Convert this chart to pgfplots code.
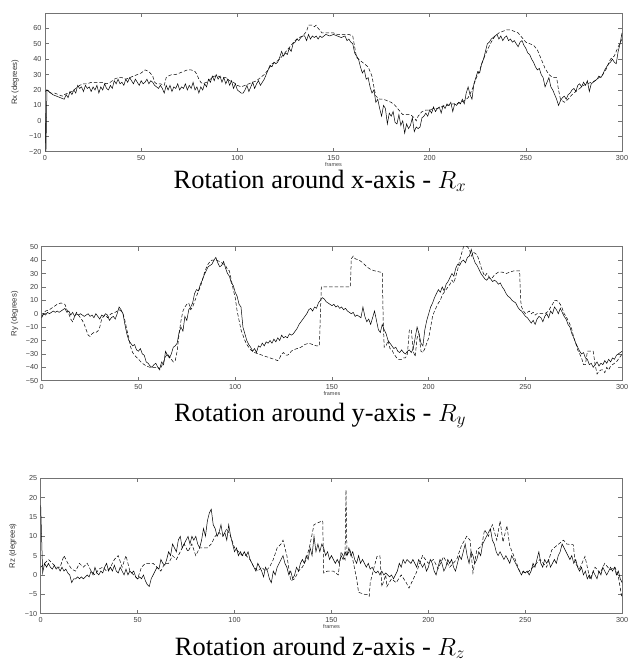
\documentclass[border=0pt]{standalone}
\usepackage{fontspec}
\setmainfont{Liberation Serif}
\setsansfont{Liberation Sans}
\usepackage{pgfplots}
\pgfplotsset{compat=1.18}

\newcommand{\ticksf}{\sffamily\fontsize{7.3}{8}\selectfont}

\pgfplotsset{
  mstyle/.style={
    scale only axis, anchor=north west,
    xmin=0, xmax=300, xtick={0,50,...,300},
    tick align=inside, major tick length=4bp,
    axis line style={draw=black!55, line width=0.5bp},
    every tick/.style={draw=black!55, line width=0.5bp},
    tick label style={font=\ticksf, text=black!75},
    /pgf/number format/assume math mode=true,
    xlabel=frames,
    xlabel style={at={(axis description cs:0.5,0)}, anchor=north, yshift=-7.5bp,
      font=\sffamily\fontsize{5.5}{6}\selectfont, text=black!75},
    ylabel style={anchor=center,
      font=\sffamily\fontsize{7.8}{8}\selectfont, text=black!80},
    no markers,
  },
  est/.style={black, line width=0.5bp},
  truth/.style={black, line width=0.5bp, dash pattern=on 3.5bp off 2bp},
}

\begin{document}
\begin{tikzpicture}
\useasboundingbox (0,0) rectangle (629bp,-662bp);

%%%%% Rx
\begin{axis}[mstyle,
  at={(45bp,-13.3bp)}, width=577bp, height=138.4bp,
  ymin=-20, ymax=69.7, ytick={-20,-10,...,60},
  yticklabels={−20,−10,0,10,20,30,40,50,60},
  ylabel={Rx (degrees)}, ylabel style={at={(axis description cs:-0.052,0.5)}}]
\addplot[est] coordinates {
(0,5)(0.5,-20)(1,20)(2,19)(4,17)(6,16)(8,15)(10,14)(11,17)(12,15)(13,19)(14,17)(15,20)(16,18)(17,23)(18,21)(19,22)(20,19)
(21,23)(22,21)(23,22)(24,19)(25,22)(26,20)(27,23)(28,18)(29,22)(30,20)(31,24)(32,21)(33,20)(34,23)(35,21)(36,26)(37,24)(38,27)(39,24)(40,25)
(41,23)(42,27)(43,25)(44,28)(45,26)(46,24)(47,27)(48,25)(49,23)(50,26)(51,24)(52,25)(53,27)(54,24)(55,26)(56,25)(57,23)(58,22)(59,21)(60,23)
(61,21)(62,18)(63,23)(64,20)(65,23)(66,19)(67,22)(68,21)(69,24)(70,20)(71,22)(72,21)(73,24)(74,20)(75,23)(76,21)(77,25)(78,20)(79,22)(80,18)
(81,22)(82,20)(83,24)(84,22)(85,27)(86,25)(87,29)(88,26)(89,30)(90,27)(91,29)(92,25)(93,28)(94,24)(95,27)(96,23)(97,26)(98,21)(99,24)(100,20)
(101,19)(102,18)(103,18)(104,20)(105,23)(106,19)(107,22)(108,25)(109,21)(110,24)(111,26)(112,23)(113,25)(114,27)(115,30)(116,33)(117,36)(118,35)(119,38)(120,37)
(121,38)(122,41)(123,45)(124,42)(125,44)(126,43)(127,47)(128,45)(129,50)(130,51)(131,53)(132,52)(133,54)(134,55)(135,55)(136,52)(137,56)(138,53)(139,55)(140,54)
(141,55)(142,53)(143,55)(144,54)(146,56)(148,55)(150,56)(152,55)(154,54)(156,55)(157,52)(158,53)(159,51)(160,50)
(161,44)(162,42)(163,40)(164,35)(165,31)(166,33)(167,27)(168,28)(169,22)(170,18)(171,20)(172,12)(173,14)(174,8)(175,3)(176,10)(177,8)(178,-2)(179,5)(180,3)
(181,6)(182,-1)(183,-2)(184,4)(185,-3)(186,0)(187,-8)(188,-2)(189,-5)(190,-3)(191,2)(192,-7)(193,-4)(194,-5)(195,-4)(196,2)(197,3)(198,5)(199,3)(200,7)
(201,5)(202,9)(203,6)(204,8)(205,9)(206,5)(207,10)(208,8)(209,11)(210,10)(211,12)(212,6)(213,11)(214,10)(215,12)(216,11)(217,14)(218,11)(219,18)(220,22)
(221,17)(222,14)(223,24)(224,28)(225,32)(226,31)(227,37)(228,40)(229,45)(230,50)(231,51)(232,53)(233,54)(234,55)(235,56)(236,53)(237,55)(238,52)(239,54)(240,55)
(241,52)(242,53)(243,51)(244,52)(245,50)(246,48)(247,51)(248,52)(249,49)(250,47)(251,44)(252,43)(253,40)(254,38)(255,35)(256,33)(257,34)(258,30)(259,28)(260,22)
(261,25)(262,28)(263,22)(264,20)(265,17)(266,14)(267,10)(268,13)(269,15)(270,16)(271,14)(272,17)(273,18)(274,20)(275,21)(276,19)(277,23)(278,24)(279,22)(280,25)
(281,23)(282,26)(283,19)(284,24)(285,25)(286,26)(287,27)(288,29)(289,28)(290,30)(291,33)(292,35)(293,37)(294,38)(295,40)(296,38)(297,37)(298,45)(299,50)(300,57)};
\addplot[truth] coordinates {
(0,19)(1,20)(3,18)(5,18)(7,17)(9,16)(10,17)(12,18)(14,19)(16,21)(18,23)(20,24)(22,24)(24,25)(26,25)(28,25)(30,25)(32,24)(34,25)(36,27)(38,28)(40,28)
(42,27)(44,28)(46,29)(48,30)(50,31)(52,33)(54,32)(56,29)(57,25)(58,24)(60,24)(62,23)(63,28)(64,29)(66,30)(68,30)(70,31)(72,32)(74,33)(76,33)(78,32)
(79,30)(80,27)(81,25)(82,24)(84,25)(86,27)(88,29)(90,29)(92,28)(94,28)(96,26)(98,25)(100,23)(102,22)(104,23)(106,24)(108,25)(110,26)(112,28)(114,30)
(116,33)(118,37)(120,38)(122,40)(124,43)(126,46)(128,49)(130,52)(132,54)(134,55)(136,58)(137,62)(139,62)(140,61)(141,62)(142,60)(144,57)(146,57)
(148,57)(150,57)(152,56)(154,56)(156,56)(158,56)(160,55)(161,48)(162,41)(164,39)(166,37)(168,35)(170,29)(171,22)(172,16)(174,14)(176,14)(178,13)
(180,12)(182,10)(184,7)(186,4)(188,4)(190,4)(192,2)(193,0)(194,3)(196,6)(198,7)(200,7)(202,8)(204,8)(206,9)(208,10)(210,10)(212,11)(214,11)(216,12)
(218,13)(220,15)(222,20)(224,27)(226,33)(228,40)(230,46)(232,51)(234,55)(236,57)(238,58)(240,59)(242,59)(244,58)(246,57)(248,54)(250,51)(252,50)
(254,49)(256,46)(258,40)(260,34)(262,30)(264,28)(266,28)(267,20)(268,14)(270,12)(272,14)(274,17)(276,19)(278,21)(280,23)(282,24)(284,25)(286,26)
(288,28)(290,30)(292,34)(294,40)(296,42)(298,48)(300,53)};
\end{axis}

%%%%% Ry
\begin{axis}[mstyle,
  at={(41.7bp,-246.7bp)}, width=580.5bp, height=134bp,
  ymin=-50, ymax=50, ytick={-50,-40,...,50},
  yticklabels={−50,−40,−30,−20,−10,0,10,20,30,40,50},
  ylabel={Ry (degrees)}, ylabel style={at={(axis description cs:-0.0465,0.5)}}]
\addplot[est] coordinates {
(0,-3)(1,0)(2,-1)(3,1)(4,0)(5,1)(6,2)(7,1)(8,2)(9,1)(10,2)(11,3)(12,4)(13,1)(14,2)(15,-1)(16,1)(17,-2)(18,0)(19,-1)(20,0)
(21,-1)(22,-2)(23,-1)(24,0)(25,-2)(26,-1)(27,-3)(28,0)(29,-2)(30,-4)(31,-1)(32,-2)(33,0)(34,-1)(35,-5)(36,-3)(37,-2)(38,-4)(39,0)(40,5)
(41,3)(42,0)(43,-8)(44,-15)(45,-20)(46,-22)(47,-24)(48,-23)(49,-27)(50,-28)(51,-26)(52,-30)(53,-31)(54,-36)(55,-37)(56,-39)(57,-40)(58,-38)(59,-37)(60,-40)
(61,-41)(62,-36)(63,-38)(64,-28)(65,-31)(66,-33)(67,-30)(68,-25)(69,-24)(70,-22)(71,-14)(72,-10)(73,-13)(74,-2)(75,-5)(76,3)(77,5)(78,8)(79,15)(80,18)
(81,17)(82,22)(83,25)(84,29)(85,32)(86,35)(87,36)(88,37)(89,40)(90,42)(91,38)(92,35)(93,36)(94,39)(95,34)(96,30)(97,28)(98,23)(99,21)(100,16)
(101,13)(102,7)(103,5)(104,-10)(105,-15)(106,-20)(107,-23)(108,-25)(109,-28)(110,-26)(111,-29)(112,-24)(113,-25)(114,-22)(115,-24)(116,-21)(117,-22)(118,-20)(119,-22)(120,-19)
(121,-21)(122,-18)(123,-20)(124,-16)(125,-18)(126,-17)(127,-18)(128,-15)(129,-16)(130,-15)(131,-13)(132,-11)(133,-8)(134,-6)(135,-4)(136,-2)(137,0)(138,3)(139,4)(140,2)
(141,5)(142,4)(143,8)(144,10)(145,12)(146,11)(147,9)(148,8)(149,7)(150,6)(151,7)(152,5)(153,6)(154,4)(155,5)(156,3)(157,4)(158,2)(159,1)(160,0)
(161,1)(162,-2)(163,-1)(164,-2)(165,-3)(166,5)(167,-2)(168,-6)(169,-4)(170,-8)(171,-3)(172,2)(173,-5)(174,-12)(175,-14)(176,-8)(177,-12)(178,-15)(179,-20)(180,-22)
(181,-24)(182,-26)(183,-25)(184,-28)(185,-29)(186,-27)(187,-29)(188,-30)(189,-28)(190,-27)(191,-29)(192,-26)(193,-18)(194,-10)(195,-15)(196,-22)(197,-24)(198,-12)(199,-5)(200,0)
(201,5)(202,8)(203,12)(204,15)(205,18)(206,16)(207,20)(208,17)(209,22)(210,24)(211,27)(212,30)(213,28)(214,34)(215,37)(216,36)(217,39)(218,40)(219,38)(220,42)
(221,43)(222,48)(223,42)(224,38)(225,36)(226,33)(227,30)(228,28)(229,26)(230,25)(231,27)(232,26)(233,24)(234,25)(235,24)(236,22)(237,23)(238,20)(239,18)(240,15)
(241,13)(242,12)(243,10)(244,9)(245,8)(246,5)(247,3)(248,2)(249,0)(250,-2)(251,-3)(252,-5)(253,-7)(254,-5)(255,-8)(256,-4)(257,-2)(258,-3)(259,-6)(260,-2)
(261,0)(262,-3)(263,2)(264,0)(265,5)(266,3)(267,0)(268,4)(269,1)(270,-2)(271,-4)(272,-8)(273,-10)(274,-15)(275,-18)(276,-22)(277,-25)(278,-28)(279,-30)(280,-29)
(281,-33)(282,-34)(283,-38)(284,-37)(285,-40)(286,-38)(287,-36)(288,-39)(289,-37)(290,-38)(291,-35)(292,-37)(293,-34)(294,-36)(295,-33)(296,-34)(297,-31)(298,-30)(299,-29)(300,-28)};
\addplot[truth] coordinates {
(0,-2)(2,2)(4,3)(6,5)(8,7)(10,8)(12,7)(13,3)(14,0)(15,-4)(16,-6)(17,-2)(18,1)(19,-1)(20,-3)(21,-5)(22,-8)(23,-12)(24,-16)(25,-17)(26,-15)(27,-14)
(28,-14)(29,-13)(30,-10)(31,-4)(32,-2)(33,-1)(34,-3)(35,-1)(36,0)(38,1)(40,3)(41,2)(42,0)(43,-5)(44,-12)(45,-18)(46,-25)(47,-29)(48,-31)(50,-34)
(52,-37)(54,-39)(56,-40)(58,-40)(60,-40)(61,-42)(62,-39)(63,-36)(64,-32)(65,-30)(66,-32)(67,-34)(68,-36)(69,-35)(70,-28)(71,-15)(72,-5)(73,2)
(74,5)(75,7)(76,8)(77,3)(78,5)(79,9)(80,13)(81,17)(82,20)(83,25)(84,30)(85,34)(86,37)(87,39)(88,40)(90,40)(92,39)(94,37)(95,36)(96,33)(97,32)
(98,25)(99,18)(100,12)(101,2)(102,-5)(103,-12)(104,-16)(105,-20)(106,-23)(107,-25)(108,-27)(110,-29)(112,-30)(114,-31)(116,-32)(118,-33)(120,-34)
(122,-35)(123,-33)(124,-30)(125,-29)(126,-31)(127,-31)(128,-30)(129,-28)(130,-27)(132,-26)(134,-25)(136,-23)(138,-22)(140,-23)(142,-24)(143.5,-24)
(144.5,20)(146,20)(148,20)(150,20)(152,20)(154,20)(156,20)(158,20)(159.5,20)(160,41)(161,43)(162,41)(164,40)(166,38)(168,35)(170,33)(172,32)(175,31)
(176,31)(176.5,-5)(177,-25)(178,-24)(179,-20)(180,-26)(181,-27)(182,-30)(183,-32)(184,-34)(185,-34)(186,-34)(187,-33)(188,-33)(189,-30)(190,-12)
(191,-12)(192,-28)(193,-32)(194,-18)(195,-15)(196,-28)(197,-29)(198,-26)(199,-22)(200,-18)(201,-10)(202,-2)(203,2)(204,5)(205,8)(206,10)(207,14)
(208,16)(209,18)(210,20)(211,22)(212,25)(213,23)(214,28)(215,33)(216,40)(217,45)(218,50)(219,50)(220,50)(221,48)(222,43)(223,46)(224,45)(225,44)
(226,40)(227,35)(228,31)(229,28)(230,30)(231,28)(232,26)(233,27)(234,29)(236,31)(238,31)(240,30)(242,31)(244,32)(247,32)(247.5,10)(248,5)(249,2)
(250,0)(251,1)(252,2)(253,0)(254,1)(255,-1)(256,0)(258,0)(260,0)(262,2)(263,5)(264,7)(265,10)(266,10)(267,9)(268,7)(269,4)(270,0)(271,-2)(272,-5)
(273,-8)(274,-12)(275,-18)(276,-22)(277,-27)(278,-30)(279,-33)(280,-38)(281,-38)(282,-28)(284,-28)(285,-28)(286,-38)(287,-45)(288,-43)(289,-42)
(290,-42)(291,-44)(292,-40)(293,-42)(294,-39)(295,-38)(296,-37)(297,-36)(298,-34)(299,-32)(300,-30)};
\end{axis}

%%%%% Rz
\begin{axis}[mstyle,
  at={(40.7bp,-478.3bp)}, width=581.5bp, height=135.3bp,
  ymin=-10, ymax=25, ytick={-10,-5,...,25},
  yticklabels={−10,−5,0,5,10,15,20,25},
  ylabel={Rz (degrees)}, ylabel style={at={(axis description cs:-0.048,0.5)}}]
\addplot[est] coordinates {
(0,18)(1,0.5)(2,3)(3,2)(4,3)(5,2)(6,1.5)(7,2.5)(8,1.5)(9,2)(10,1)(11,2)(12,1)(13,1.5)(14,0.5)(15,0)(16,-2)(17,-1)(18,-1)(19,-0.5)(20,-1)
(21,-0.5)(22,-1)(23,-0.5)(24,0)(25,-0.5)(26,1)(27,0)(28,2)(29,0.5)(30,0)(31,1)(32,0.5)(33,2)(34,3)(35,1)(36,2)(37,1)(38,2.5)(39,1)(40,0.5)
(41,2)(42,1)(43,0)(44,1.5)(45,0)(46,1)(47,0.5)(48,1)(49,-0.5)(50,-1)(51,-0.5)(52,-1)(53,0)(54,-1.5)(55,-2.5)(56,-3)(57,-1)(58,0)(59,1)(60,2)
(61,1.5)(62,4)(63,3)(64,2.5)(65,4)(66,6)(67,5)(68,8)(69,7)(70,6)(71,9)(72,10)(73,7)(74,8)(75,9)(76,10)(77,8)(78,10)(79,9)(80,10)
(81,8)(82,7)(83,9)(84,12)(85,10)(86,14)(87,16)(88,17)(89,13)(90,12)(91,10)(92,11)(93,13)(94,10)(95,11)(96,9)(97,13)(98,10)(99,8)(100,6)
(101,7)(102,5)(103,6)(104,5)(105,6)(106,5)(107,6)(108,4)(109,3)(110,2)(111,1)(112,3)(113,2)(114,1)(115,-0.5)(116,2)(117,1)(118,-1)(119,-2)(120,1)
(121,0)(122,2)(123,3)(124,4)(125,5)(126,3)(127,2)(128,0)(129,1)(130,-1)(131,0)(132,2)(133,1)(134,3)(135,4)(136,3)(137,5)(138,4)(139,7)(140,5)
(141,10)(142,6)(143,8)(144,6)(145,8)(146,7)(147,5)(148,6)(149,4)(150,5)(151,4)(152,3)(153,4)(154,3)(155,5)(156,4)(157,6)(158,5)(159,7)(160,5)
(161,6)(162,4)(163,3)(164,5)(165,3)(166,4)(167,3)(168,2)(169,3)(170,1.5)(171,2)(172,1)(173,0.5)(174,1)(175,0)(176,1)(177,0)(178,0.5)(179,0)(180,-0.5)
(181,0)(182,-1)(183,0)(184,1)(185,3)(186,2)(187,4)(188,3)(189,4)(190,3.5)(191,3)(192,4)(193,3)(194,2)(195,4)(196,3)(197,2)(198,3)(199,1)(200,2)
(201,4)(202,3)(203,1)(204,0)(205,2)(206,4)(207,3)(208,1)(209,2)(210,4)(211,3)(212,4)(213,2)(214,1)(215,3)(216,5)(217,4)(218,6)(219,8)(220,5)
(221,3)(222,6)(223,5)(224,3)(225,4)(226,6)(227,5)(228,8)(229,9)(230,10)(231,11)(232,12)(233,9)(234,8)(235,6)(236,5)(237,6)(238,5)(239,4)(240,5)
(241,4)(242,3)(243,5)(244,4)(245,3)(246,2)(247,1)(248,0)(249,1)(250,0.5)(251,1)(252,0)(253,1)(254,3)(255,2)(256,4)(257,6)(258,3)(259,2)(260,4)
(261,3)(262,4)(263,2)(264,3)(265,4)(266,3)(267,5)(268,6)(269,8)(270,7)(271,6)(272,5)(273,4)(274,5)(275,3)(276,4)(277,2)(278,1)(279,2)(280,0)
(281,1)(282,-1)(283,0)(284,-1)(285,1)(286,0)(287,-1)(288,1)(289,0)(290,2)(291,1)(292,0)(293,1)(294,2)(295,1)(296,2)(297,0)(298,1)(299,-1)(300,-2)};
\addplot[truth] coordinates {
(0,2)(2,3)(4,4)(6,3)(8,2)(10,2)(12,5)(14,3)(16,1.5)(18,1)(20,3)(22,2)(24,3)(26,1)(28,0)(30,1.5)(32,2)(34,1)(36,2)(38,4)(40,5)(42,2)(44,5)(46,1)
(48,0)(50,-1)(52,2)(54,3)(56,3)(58,3)(60,2)(62,1)(64,3)(66,3)(68,5)(70,4)(72,6)(74,8)(76,6)(78,8)(80,5)(82,7)(84,7)(86,7)(88,8)(90,10)(92,11)
(94,10)(96,12)(98,10)(100,7)(102,6)(104,5)(106,5)(108,4)(110,2)(112,1)(114,2)(116,1)(118,2)(120,4)(122,7)(124,8)(125,9)(127,5)(129,-1.5)(131,-1)
(133,1)(135,2)(137,4)(139,8)(141,13)(143,13.5)(145.5,14)(146,0.5)(148,1)(151,1)(153.5,0)(155,6)(157,4)(157.5,22)(158,5)(159.5,6.5)(161,4)(163,-1)
(164,-4.5)(167,-5)(168.5,-5)(169.5,-5.5)(170,-2)(172,2)(173.5,4.8)(175,5)(176,-3)(178,0)(178.6,-3)(181,-1)(183.4,-2)(186,0)(188.6,-2)(190,-3.4)
(193.7,0.5)(197,5)(200,3)(202.6,4)(205,1.6)(207.8,4.7)(211,2)(214.6,4)(217,7.5)(219.8,10)(221.5,9)(223,0.5)(225,6.5)(227.5,7.5)(229,11.7)(231,10)
(233,13)(235.3,9)(237,14)(238.5,8.5)(240.5,12.7)(242,7.5)(244.6,4.3)(247,1)(250.8,0.5)(254,2)(257.6,4)(261,2)(263.7,6.5)(266,7.5)(269.7,9)(271.4,8)
(274.8,7.8)(275.7,3)(278,1.6)(280.8,4.8)(283.4,-1.2)(286,2)(288.6,0.5)(291,3)(293.7,1.3)(296.3,2)(298,-0.4)(299.7,-5.5)};
\end{axis}

\node[anchor=base] at (320bp,-188bp) {\fontsize{26.5}{30}\selectfont Rotation around x-axis - $R_x$};
\node[anchor=base] at (320bp,-421bp) {\fontsize{26.5}{30}\selectfont Rotation around y-axis - $R_y$};
\node[anchor=base] at (320bp,-655bp) {\fontsize{26.5}{30}\selectfont Rotation around z-axis - $R_z$};
\end{tikzpicture}
\end{document}
